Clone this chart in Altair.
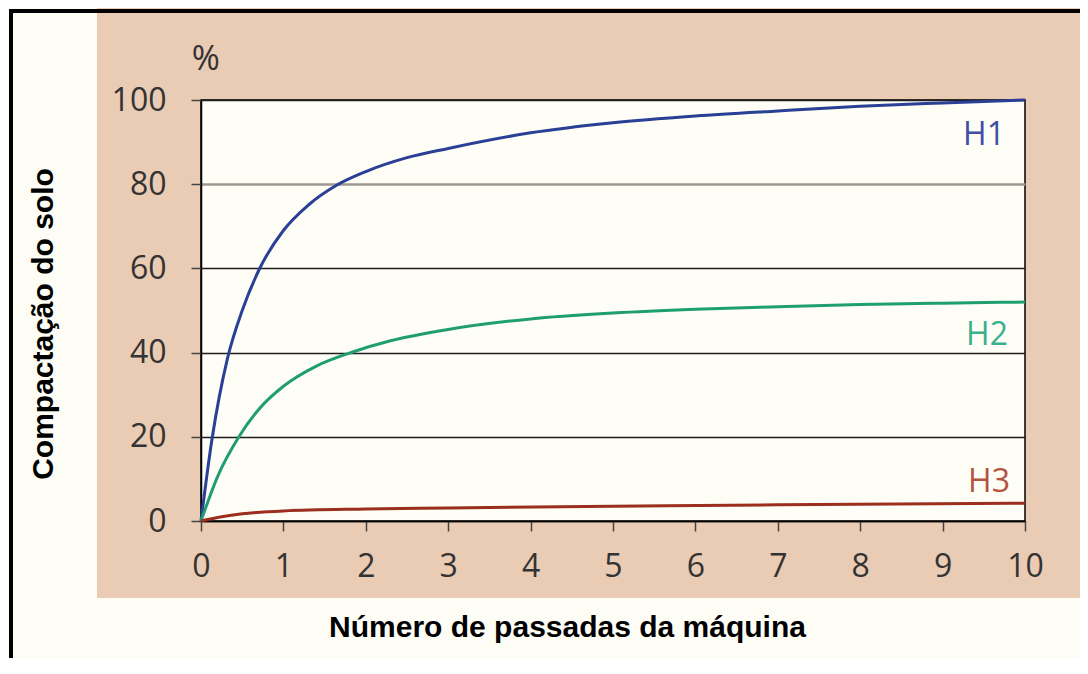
import altair as alt
import pandas as pd

# ---- data ----
passes_h1 = [0, 0.13, 0.32, 0.5, 0.7, 1.0, 1.3, 1.65, 2.0, 2.5, 3.0, 4.0, 5.0, 6.0, 7.0, 8.0, 9.0, 10.0]
h1 = [0, 19, 38.5, 50, 59.5, 69, 75, 79.8, 83, 86.3, 88.5, 92.2, 94.6, 96.2, 97.4, 98.5, 99.3, 100]
passes_h2 = [0, 0.2, 0.46, 0.7, 1.0, 1.4, 1.85, 2.3, 3.0, 4.0, 5.0, 6.0, 7.0, 8.0, 9.0, 10.0]
h2 = [0, 10.5, 20, 26.5, 32, 36.8, 40.2, 42.8, 45.5, 48.0, 49.4, 50.3, 50.9, 51.4, 51.75, 52]
passes_h3 = [0, 0.25, 0.5, 1, 2, 3, 5, 7, 10]
h3 = [0, 1.0, 1.7, 2.4, 2.85, 3.1, 3.5, 3.85, 4.2]

series_names = ["H1", "H2", "H3"]
line_colors = ["#2A3F96", "#1F9E70", "#9B2E1E"]
label_colors = ["#3E4FA3", "#3BB08D", "#B5533F"]
x_ticks = list(range(0, 11))
y_ticks = [0, 20, 40, 60, 80, 100]

x_title = "Número de passadas da máquina"
y_title = "Compactação do solo"
unit_label = "%"

rows = []
for name, xs, ys in [("H1", passes_h1, h1), ("H2", passes_h2, h2), ("H3", passes_h3, h3)]:
    for a, b in zip(xs, ys):
        rows.append({"series": name, "passes": a, "value": b})
df = pd.DataFrame(rows)

W, H = 824, 421
PAD = {"left": 193, "top": 92, "right": 55, "bottom": 137}

x_enc = alt.X(
    "passes:Q",
    scale=alt.Scale(domain=[0, 10], nice=False, zero=False),
    axis=alt.Axis(
        values=x_ticks, format="d", title=None,
        labelFont="Open Sans", labelFontSize=32, labelColor="#333333",
        labelPadding=20, labelFlush=False,
        tickSize=10, tickColor="#444444", tickWidth=1.5,
        domainColor="black", domainWidth=1.5, grid=False,
    ),
)
y_enc = alt.Y(
    "value:Q",
    scale=alt.Scale(domain=[0, 100], nice=False),
    axis=alt.Axis(
        values=y_ticks, title=None,
        labelFont="Open Sans", labelFontSize=32, labelColor="#333333",
        labelPadding=25, labelFlush=False,
        tickSize=10, tickColor="#444444", tickWidth=1.5,
        domainColor="black", domainWidth=1.5,
        grid=True,
        gridColor={"condition": {"test": "datum.value === 80", "value": "#9c9890"}, "value": "#1e1e1e"},
        gridWidth={"condition": {"test": "datum.value === 80", "value": 2.5}, "value": 1.5},
    ),
)

one = pd.DataFrame({"k": [0]})

ivory = "#FDFCF5"
left_strip = alt.Chart(one).mark_rect(color=ivory).encode(
    x=alt.value(-193), x2=alt.value(-104), y=alt.value(-92), y2=alt.value(560))
bottom_strip = alt.Chart(one).mark_rect(color=ivory).encode(
    x=alt.value(-104), x2=alt.value(880), y=alt.value(498), y2=alt.value(560))
left_border = alt.Chart(one).mark_rule(color="black", strokeWidth=4).encode(
    x=alt.value(-190), y=alt.value(-91), y2=alt.value(560))
top_border = alt.Chart(one).mark_rule(color="black", strokeWidth=4).encode(
    y=alt.value(-89), x=alt.value(-192), x2=alt.value(880))

lines = alt.Chart(df).mark_line(strokeWidth=3, interpolate="monotone").encode(
    x=x_enc, y=y_enc,
    color=alt.Color("series:N", scale=alt.Scale(domain=series_names, range=line_colors), legend=None),
    detail="series:N",
)

label_offsets = {"H1": (-20, 45), "H2": (-17, 43), "H3": (-15, -11.6)}
label_layers = []
for name, col in zip(series_names, label_colors):
    dx, dy = label_offsets[name]
    label_layers.append(
        alt.Chart(df).transform_filter(
            (alt.datum.series == name) & (alt.datum.passes == 10)
        ).mark_text(
            font="Open Sans", fontSize=32, align="right", baseline="alphabetic",
            dx=dx, dy=dy, color=col,
        ).encode(x="passes:Q", y="value:Q", text="series:N")
    )

pct = alt.Chart(pd.DataFrame({"t": [unit_label]})).mark_text(
    font="Open Sans", fontSize=34, align="center", baseline="alphabetic", color="#333333"
).encode(x=alt.value(4.7), y=alt.value(-30), text="t:N")

xt = alt.Chart(pd.DataFrame({"t": [x_title]})).mark_text(
    font="Liberation Sans", fontSize=30, fontWeight="bold", align="center",
    baseline="alphabetic", color="black"
).encode(x=alt.value(366.5), y=alt.value(536.7), text="t:N")

yt = alt.Chart(pd.DataFrame({"t": [y_title]})).mark_text(
    font="Liberation Sans", fontSize=30, fontWeight="bold", align="center",
    baseline="alphabetic", color="black", angle=270
).encode(x=alt.value(-148.3), y=alt.value(224), text="t:N")

chart = alt.layer(
    left_strip, bottom_strip, left_border, top_border, lines, *label_layers, pct, xt, yt
).properties(
    width=W, height=H, padding=PAD,
    autosize=alt.AutoSizeParams(type="none"),
    background="#EACBB3",
).configure_view(
    stroke="black", strokeWidth=1.5, fill="#FEFDF6"
)

chart.save("out.html", embed_options={"renderer": "svg", "actions": False})
